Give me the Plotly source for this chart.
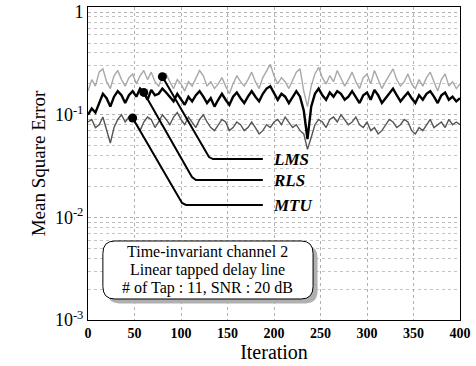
import numpy as np
import plotly.graph_objects as go

iterations = list(range(0, 401, 4))

lms = [0.17, 0.22, 0.19, 0.26, 0.28, 0.21, 0.18, 0.24, 0.27, 0.22,
       0.19, 0.23, 0.25, 0.20, 0.24, 0.27, 0.22, 0.26, 0.21, 0.19,
       0.235, 0.25, 0.21, 0.18, 0.22, 0.20, 0.17, 0.21, 0.19, 0.23,
       0.27, 0.24, 0.19, 0.21, 0.18, 0.20, 0.23, 0.19, 0.16, 0.20,
       0.24, 0.21, 0.19, 0.22, 0.26, 0.21, 0.18, 0.23, 0.27, 0.31,
       0.24, 0.20, 0.23, 0.21, 0.18, 0.22, 0.26, 0.28, 0.17, 0.12,
       0.19, 0.25, 0.29, 0.23, 0.20, 0.24, 0.21, 0.27, 0.23, 0.19,
       0.22, 0.26, 0.21, 0.18, 0.23, 0.25, 0.20, 0.27, 0.22, 0.18,
       0.21, 0.24, 0.28, 0.22, 0.19, 0.21, 0.25, 0.20, 0.18, 0.22,
       0.19, 0.23, 0.26, 0.21, 0.17, 0.22, 0.25, 0.19, 0.21, 0.18,
       0.20]

rls = [0.10, 0.115, 0.105, 0.13, 0.16, 0.145, 0.12, 0.15, 0.17, 0.155,
       0.13, 0.155, 0.17, 0.15, 0.18, 0.165, 0.14, 0.175, 0.155, 0.16,
       0.18, 0.165, 0.15, 0.135, 0.16, 0.14, 0.125, 0.15, 0.135, 0.155,
       0.17, 0.15, 0.13, 0.145, 0.12, 0.14, 0.16, 0.14, 0.125, 0.15,
       0.165, 0.145, 0.13, 0.15, 0.17, 0.15, 0.135, 0.16, 0.18, 0.19,
       0.165, 0.14, 0.16, 0.15, 0.13, 0.15, 0.17, 0.15, 0.11, 0.058,
       0.12, 0.16, 0.18, 0.155, 0.14, 0.165, 0.15, 0.17, 0.16, 0.14,
       0.15, 0.17, 0.15, 0.13, 0.155, 0.165, 0.14, 0.175, 0.155, 0.13,
       0.145, 0.16, 0.18, 0.155, 0.135, 0.15, 0.165, 0.145, 0.13, 0.155,
       0.14, 0.16, 0.17, 0.15, 0.13, 0.155, 0.165, 0.14, 0.15, 0.135,
       0.145]

mtu = [0.085, 0.09, 0.075, 0.08, 0.095, 0.07, 0.053, 0.075, 0.09, 0.10,
       0.085, 0.095, 0.093, 0.08, 0.07, 0.085, 0.095, 0.09, 0.075, 0.085,
       0.10, 0.09, 0.08, 0.095, 0.105, 0.09, 0.08, 0.095, 0.085, 0.075,
       0.09, 0.10, 0.085, 0.075, 0.07, 0.08, 0.09, 0.085, 0.07, 0.075,
       0.085, 0.08, 0.07, 0.075, 0.085, 0.075, 0.065, 0.07, 0.08, 0.075,
       0.085, 0.09, 0.08, 0.095, 0.085, 0.075, 0.08, 0.07, 0.065, 0.046,
       0.06, 0.08, 0.09, 0.085, 0.075, 0.09, 0.095, 0.085, 0.10, 0.09,
       0.08, 0.085, 0.095, 0.08, 0.075, 0.085, 0.07, 0.075, 0.065, 0.07,
       0.08, 0.09, 0.085, 0.075, 0.08, 0.09, 0.085, 0.07, 0.065, 0.075,
       0.07, 0.08, 0.09, 0.075, 0.08, 0.085, 0.075, 0.09, 0.08, 0.085,
       0.08]

x_ticks = [0, 50, 100, 150, 200, 250, 300, 350, 400]
y_ticks = [0.001, 0.01, 0.1, 1]
y_ticktext = ["10<sup>-3</sup>", "10<sup>-2</sup>", "10<sup>-1</sup>", "1"]

# callout leader lines (iteration, value)
lms_call_x = [80, 123.7, 126.9, 130.1, 134.4, 188]
lms_call_y = [None, 0.0496, 0.0433, 0.0387, 0.0370, 0.0370]
rls_call_x = [60, 105.4, 108.6, 111.8, 116.1, 188]
rls_call_y = [None, 0.0316, 0.0277, 0.0247, 0.0231, 0.0231]
mtu_call_x = [48, 94.6, 97.8, 101.1, 105.4, 188]
mtu_call_y = [None, 0.0177, 0.0154, 0.0138, 0.0132, 0.0132]
label_x = 197
info_lines = ["Time-invariant channel 2", "Linear tapped delay line",
              "# of Tap : 11, SNR : 20 dB"]
info_y = [0.2173, 0.1597, 0.1022]

FONT = "Liberation Serif, Times New Roman, serif"

fig = go.Figure()
fig.add_trace(go.Scatter(x=iterations, y=lms, mode="lines",
                         line=dict(color="#a8a8a8", width=1.4), name="LMS"))
fig.add_trace(go.Scatter(x=iterations, y=mtu, mode="lines",
                         line=dict(color="#555555", width=1.4), name="MTU"))
fig.add_trace(go.Scatter(x=iterations, y=rls, mode="lines",
                         line=dict(color="black", width=2.4), name="RLS"))

series = {"LMS": (lms, lms_call_x, lms_call_y),
          "RLS": (rls, rls_call_x, rls_call_y),
          "MTU": (mtu, mtu_call_x, mtu_call_y)}
for name, (vals, cx, cy) in series.items():
    idx = iterations.index(cx[0])
    yy = [vals[idx]] + cy[1:]
    fig.add_trace(go.Scatter(x=cx, y=yy, mode="lines",
                             line=dict(color="black", width=2), showlegend=False))
    fig.add_trace(go.Scatter(x=[cx[0]], y=[vals[idx]], mode="markers",
                             marker=dict(color="black", size=9), showlegend=False))
    fig.add_annotation(x=label_x, y=np.log10(cy[-1]), xref="x", yref="y",
                       text=f"<b><i>{name}</i></b>", showarrow=False,
                       xanchor="left", yanchor="middle",
                       font=dict(family=FONT, size=17, color="black"))

# info box (rounded, with shadow)
def rrect(x0, y0, x1, y1, rx, ry):
    return (f"M {x0+rx},{y0} L {x1-rx},{y0} Q {x1},{y0} {x1},{y0+ry} "
            f"L {x1},{y1-ry} Q {x1},{y1} {x1-rx},{y1} L {x0+rx},{y1} "
            f"Q {x0},{y1} {x0},{y1-ry} L {x0},{y0+ry} Q {x0},{y0} {x0+rx},{y0} Z")

bx0, bx1, by0, by1 = 0.040, 0.605, 0.0671, 0.2524
fig.add_shape(type="path", xref="paper", yref="paper",
              path=rrect(bx0 + 0.012, by0 - 0.014, bx1 + 0.012, by1 - 0.014, 0.032, 0.04),
              fillcolor="#b0b0b0", line=dict(width=0), layer="above")
fig.add_shape(type="path", xref="paper", yref="paper",
              path=rrect(bx0, by0, bx1, by1, 0.032, 0.04),
              fillcolor="white", line=dict(color="black", width=1), layer="above")
for line_text, ly in zip(info_lines, info_y):
    fig.add_annotation(x=(bx0 + bx1) / 2, y=ly, xref="paper", yref="paper",
                       text=line_text, showarrow=False, borderpad=0,
                       xanchor="center", yanchor="middle",
                       font=dict(family=FONT, size=16, color="black"))

minor_vals = [m * 10.0 ** e for e in (-3, -2, -1) for m in range(2, 10)]

fig.update_layout(
    width=476, height=366,
    margin=dict(l=88, r=16, t=7, b=46, autoexpand=False),
    paper_bgcolor="white", plot_bgcolor="white",
    showlegend=False,
    font=dict(family=FONT, color="black"),
)
fig.update_xaxes(
    range=[0, 400], tickvals=x_ticks, ticks="", automargin=False,
    tickfont=dict(family=FONT, size=14, weight="bold"),
    showgrid=True, gridcolor="#b0b0b0", griddash="dot", gridwidth=1,
    showline=True, linecolor="black", linewidth=1, mirror=True,
    zeroline=False,
    title=dict(text="Iteration", font=dict(family=FONT, size=20), standoff=0),
)
fig.update_yaxes(
    type="log", range=[-3, 0.05], tickvals=y_ticks, ticktext=y_ticktext, ticks="",
    automargin=False,
    tickfont=dict(family=FONT, size=18),
    showgrid=True, gridcolor="#b0b0b0", griddash="dot", gridwidth=1,
    minor=dict(tickvals=minor_vals, showgrid=True, gridcolor="#c4c4c4",
               griddash="dot", gridwidth=1),
    showline=True, linecolor="black", linewidth=1, mirror=True,
    zeroline=False,
    title=dict(text="Mean Square Error", font=dict(family=FONT, size=19), standoff=4),
)

fig.write_html("out.html", config={"displayModeBar": False},
               post_script="document.body.style.margin='0';document.body.style.overflow='hidden';")
